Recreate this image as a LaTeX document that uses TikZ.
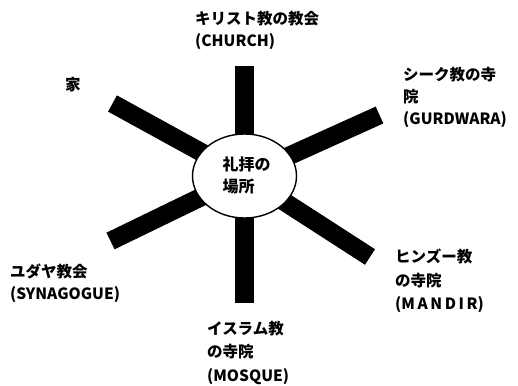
\documentclass[tikz,border=0pt]{standalone}
\usepackage{fontspec}
\setmainfont{Noto Sans CJK JP}
\usetikzlibrary{shapes.geometric}
\begin{document}
\begin{tikzpicture}[x=1pt,y=1pt,
  spoke/.style={line width=18.5pt,line cap=butt,draw=black},
  hub/.style={ellipse,draw=black,fill=white,line width=1.4pt,minimum width=104pt,minimum height=84pt,inner sep=0pt},
  lbl/.style={inner sep=0pt,anchor=north west,align=left,font=\fontsize{15.5}{22}\selectfont\bfseries},
  lbltall/.style={lbl,font=\fontsize{15.5}{23.5}\selectfont\bfseries}
]
\useasboundingbox (0,0) rectangle (518,-385);
\coordinate (ctr) at (244.5,-176);
\coordinate (eT) at (244.5,-66);
\coordinate (eB) at (244.5,-303);
\coordinate (eUL) at (112.5,-103.5);
\coordinate (eUR) at (379.5,-115);
\coordinate (eLL) at (110.5,-241);
\coordinate (eLR) at (370,-257);
\foreach \e in {eT,eB,eUL,eUR,eLL,eLR}{\draw[spoke] (ctr) -- (\e);}
\node[hub] (c) at (ctr) {};
\node[lbl,font=\fontsize{16}{22}\selectfont\bfseries] (ct) at (222.5,-157) {礼拝の\\場所};
\node[lbl] (church) at (195,-11) {キリスト教の教会\\(CHURCH)};
\node[lbl] (gurd) at (403,-67) {シーク教の寺\\院\\(GURDWARA)};
\node[lbl] (home) at (65,-77) {家};
\node[lbl] (syn) at (10,-264) {ユダヤ教会\\(SYNAGOGUE)};
\node[lbltall] (mandir) at (395,-249) {ヒンズー教\\の寺院\\(M\,A\,N\,D\,I\,R)};
\node[lbltall] (mosque) at (207,-321) {イスラム教\\の寺院\\(MOSQUE)};
\end{tikzpicture}
\end{document}
